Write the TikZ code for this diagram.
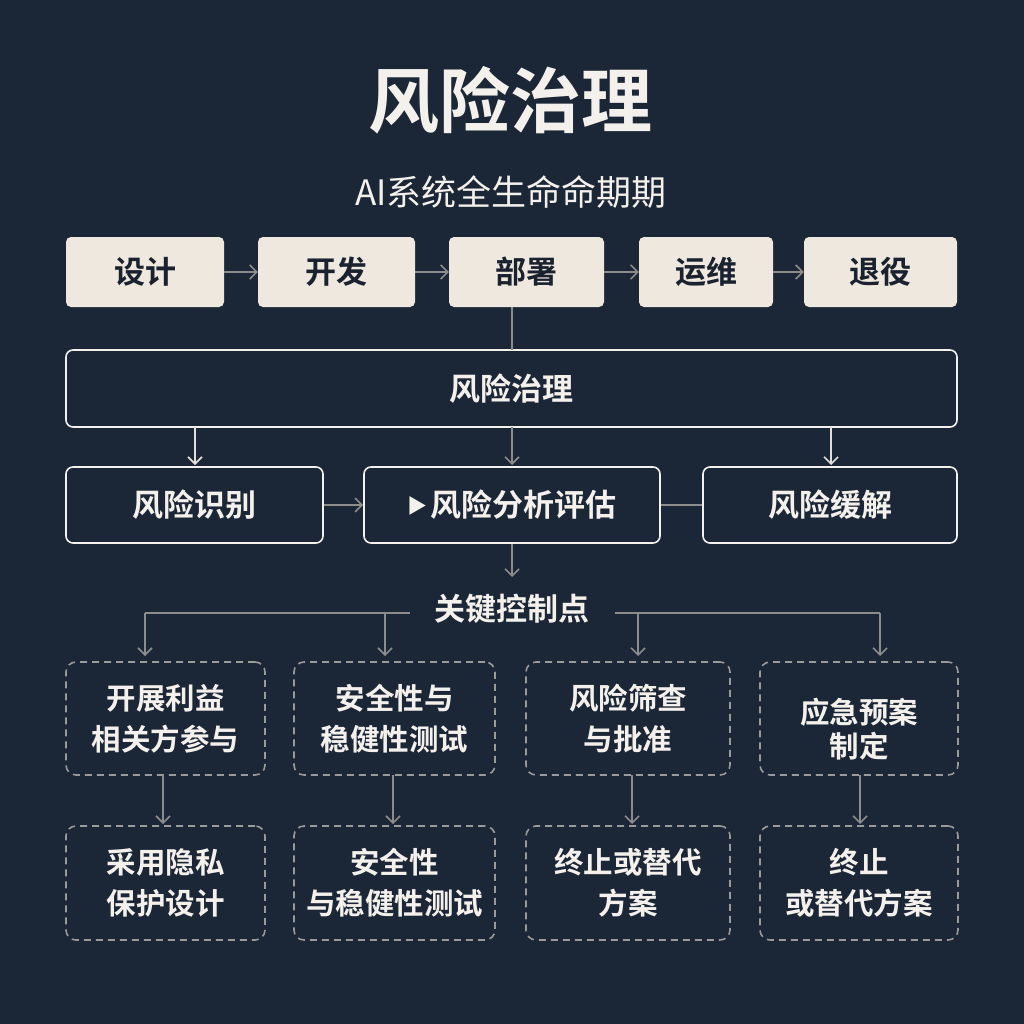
\documentclass[tikz,border=0pt]{standalone}
\usepackage{fontspec}
\setmainfont{Noto Sans CJK SC}[BoldFont={Noto Sans CJK SC Bold}]
\usetikzlibrary{arrows.meta}
\definecolor{bg}{HTML}{1B2636}
\definecolor{beige}{HTML}{EFE8DF}
\definecolor{ink}{HTML}{1A2230}
\definecolor{conn}{HTML}{8C8C8C}
\definecolor{dash}{HTML}{9A9A9A}
\definecolor{wtxt}{HTML}{F4F1EC}
\definecolor{lightconn}{HTML}{E2DFDA}
\begin{document}
\begin{tikzpicture}[x=1pt,y=-1pt,
  stagebox/.style={draw=none,fill=beige,rounded corners=5pt,text=ink,font=\bfseries\fontsize{31}{34}\selectfont,inner sep=0pt},
  govbox/.style={draw=wtxt,line width=1.6pt,fill=bg,rounded corners=7pt,text=wtxt,font=\bfseries\fontsize{31}{34}\selectfont,inner sep=0pt},
  dbox/.style={draw=dash,dashed,dash pattern=on 7pt off 5pt,line width=1.6pt,rounded corners=10pt,text=wtxt,font=\bfseries\fontsize{29.5}{41}\selectfont,align=center,inner sep=0pt},
  conn/.style={draw=conn,line width=1.6pt},
  arr/.style={conn,-{Straight Barb[length=7pt,width=14pt,line width=1.6pt]}},
  warr/.style={arr,draw=lightconn},
]
\fill[bg] (0,0) rectangle (1024,1024);
\useasboundingbox (0,0) rectangle (1024,1024);

\node[text=wtxt,font=\bfseries\fontsize{71}{76}\selectfont] (title) at (510,100) {风险治理};
\node[text=wtxt,font=\fontsize{35}{38}\selectfont] (sub) at (511,192) {AI系统全生命命期期};

% stage row
\node[stagebox,minimum width=158pt,minimum height=70pt] (s1) at (145,272) {设计};
\node[stagebox,minimum width=157pt,minimum height=70pt] (s2) at (336.5,272) {开发};
\node[stagebox,minimum width=155pt,minimum height=70pt] (s3) at (526.5,272) {部署};
\node[stagebox,minimum width=134pt,minimum height=70pt] (s4) at (706,272) {运维};
\node[stagebox,minimum width=153pt,minimum height=70pt] (s5) at (880.5,272) {退役};
\draw[arr] (s1) -- (s2);
\draw[arr] (s2) -- (s3);
\draw[arr] (s3) -- (s4);
\draw[arr] (s4) -- (s5);

% governance box
\node[govbox,minimum width=891pt,minimum height=77pt] (gov) at (511.5,388.5) {风险治理};
\coordinate (s3b) at (512,307);
\draw[conn] (s3b) -- (512,350);

% row 3
\node[govbox,minimum width=257pt,minimum height=76pt] (r1) at (194.5,505) {风险识别};
\node[govbox,minimum width=296pt,minimum height=76pt] (r2) at (512,505) {\fontsize{20}{20}\selectfont\raisebox{3pt}{▶}\,\fontsize{31}{34}\selectfont 风险分析评估};
\node[govbox,minimum width=254pt,minimum height=76pt] (r3) at (830,505) {风险缓解};
\coordinate (g1) at (195,427);
\coordinate (g2) at (512,427);
\coordinate (g3) at (831,427);
\draw[warr] (g1) -- (195,465);
\draw[arr] (g2) -- (512,465);
\draw[warr] (g3) -- (831,465);
\draw[arr] (r1) -- (r2);
\draw[conn] (r2) -- (r3);

% key control points
\node[text=wtxt,font=\bfseries\fontsize{31}{34}\selectfont] (kcp) at (512,609) {关键控制点};
\draw[arr] (r2.south) -- (512,577);
\coordinate (hl) at (145,613);
\coordinate (hr) at (880,613);
\coordinate (kl) at (410,613);
\coordinate (kr) at (615,613);
\draw[conn] (hl) -- (kl);
\draw[conn] (kr) -- (hr);
\draw[arr] (hl) -- (145,656);
\draw[arr] (385,613) -- (385,656);
\draw[arr] (638,613) -- (638,656);
\draw[arr] (hr) -- (880,656);

% row 4
\node[dbox,minimum width=199pt,minimum height=113pt] (a1) at (165.5,718.5) {开展利益\\相关方参与};
\node[dbox,minimum width=201pt,minimum height=113pt] (a2) at (394.5,718.5) {安全性与\\稳健性测试};
\node[dbox,minimum width=204pt,minimum height=113pt] (a3) at (628,718.5) {风险筛查\\与批准};
\node[dbox,minimum width=198pt,minimum height=113pt,font=\bfseries\fontsize{29.5}{34}\selectfont] (a4) at (859,718.5) {\\[12pt]应急预案\\制定};

% row 5
\node[dbox,minimum width=199pt,minimum height=114pt] (b1) at (165.5,883) {采用隐私\\保护设计};
\node[dbox,minimum width=201pt,minimum height=114pt] (b2) at (394.5,883) {安全性\\与稳健性测试};
\node[dbox,minimum width=204pt,minimum height=114pt] (b3) at (628,883) {终止或替代\\方案};
\node[dbox,minimum width=198pt,minimum height=114pt] (b4) at (859,883) {终止\\或替代方案};

\draw[arr] (163,775) -- (163,824);
\draw[arr] (393,775) -- (393,824);
\draw[arr] (632,775) -- (632,824);
\draw[arr] (860,775) -- (860,824);
\end{tikzpicture}
\end{document}
